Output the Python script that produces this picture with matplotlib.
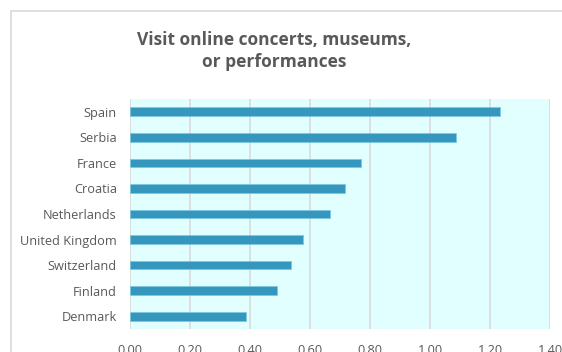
import matplotlib.pyplot as plt
from matplotlib.patches import Rectangle

# Share of respondents per country
countries = ['Spain', 'Serbia', 'France', 'Croatia', 'Netherlands',
             'United Kingdom', 'Switzerland', 'Finland', 'Denmark']
values = [1.233, 1.087, 0.771, 0.718, 0.668, 0.576, 0.535, 0.491, 0.386]
x_ticks = [0.0, 0.2, 0.4, 0.6, 0.8, 1.0, 1.2, 1.4]

W, H = 562, 352
fig = plt.figure(figsize=(W / 100, H / 100), dpi=100)
fig.patch.set_facecolor('white')

# light chart border, cut off at the right and bottom
fig.patches.append(Rectangle((11 / W, -0.1), 1.2, (H - 11) / H + 0.1,
                             transform=fig.transFigure, fill=False,
                             edgecolor='#D9D9D9', linewidth=1.2))

ax = fig.add_axes([130 / W, 1 - 329 / H, 420 / W, 230 / H])
ax.set_facecolor('#E1FFFF')

pos = list(range(len(countries)))[::-1]
ax.barh(pos, values, height=0.34, color='#3596BE', edgecolor='#7CC8E2',
        linewidth=0.6, zorder=3)

ax.set_xlim(0, 1.4)
ax.set_ylim(-0.5, len(countries) - 0.5)
ax.set_xticks(x_ticks)
ax.set_xticklabels([f'{t:.2f}' for t in x_ticks])
ax.set_yticks(pos)
ax.set_yticklabels(countries)
ax.grid(axis='x', color='#D9D9D9', linewidth=1.2, zorder=0)
for s in ax.spines.values():
    s.set_visible(False)
ax.tick_params(length=0, labelsize=9.2, labelcolor='#595959', pad=9.5)
ax.tick_params(axis='x', pad=11)
for lbl in ax.get_xticklabels() + ax.get_yticklabels():
    lbl.set_family('Open Sans')

fig.text(0.488, 1 - 51 / H, 'Visit online concerts, museums,\nor performances',
         ha='center', va='center', fontsize=12.5, fontweight='bold',
         color='#595959', family='Open Sans', linespacing=1.3)

plt.savefig('out.png', dpi=100)
plt.close()
